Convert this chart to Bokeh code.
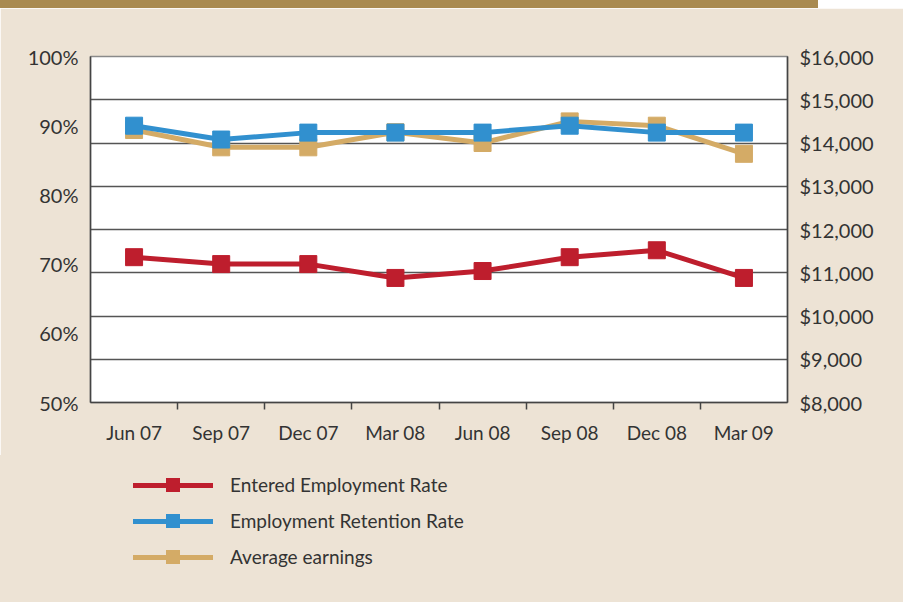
from bokeh.plotting import figure
from bokeh.layouts import column
from bokeh.models import (Range1d, LinearAxis, FixedTicker, PrintfTickFormatter,
                          NumeralTickFormatter, Grid, Div)
from bokeh.embed import file_html
from bokeh.resources import INLINE

quarters = ["Jun 07", "Sep 07", "Dec 07", "Mar 08", "Jun 08", "Sep 08", "Dec 08", "Mar 09"]
entered_rate = [71, 70, 70, 68, 69, 71, 72, 68]
retention_rate = [90, 88, 89, 89, 89, 90, 89, 89]
avg_earnings = [14300, 13900, 13900, 14250, 14000, 14500, 14400, 13750]
pct_ticks = [50, 60, 70, 80, 90, 100]
dollar_ticks = [8000, 9000, 10000, 11000, 12000, 13000, 14000, 15000, 16000]
series_labels = ["Entered Employment Rate", "Employment Retention Rate", "Average earnings"]

BG = "#EDE3D5"
BAR = "#A98A50"
RED = "#BE1E2D"
BLUE = "#3190CF"
GOLD = "#D4AB66"
TXT = "#333333"
GRID = "#555555"
FONT = "Lato"
W = 903
H = 602
BAR_H = 8
FIG_H = 447  # bar + figure end where the legend block starts

n = len(quarters)
xs = [i + 0.5 for i in range(n)]

bar = Div(text="", width=818, height=BAR_H, margin=0,
          styles={"background-color": BAR})

p = figure(output_backend="svg", toolbar_location=None,
           frame_width=697, frame_height=346,
           min_border_left=90, min_border_right=W - 90 - 697,
           min_border_top=48, min_border_bottom=FIG_H - 48 - 346,
           x_range=Range1d(0, n), y_range=Range1d(pct_ticks[0], pct_ticks[-1]),
           x_axis_type=None, y_axis_type=None, margin=0)
p.extra_y_ranges = {"earn": Range1d(dollar_ticks[0], dollar_ticks[-1])}

p.background_fill_color = "white"
p.border_fill_color = BG
p.outline_line_color = "#8a8a8a"
p.outline_line_width = 1.5
p.xgrid.visible = False
p.ygrid.visible = False

left = LinearAxis(ticker=FixedTicker(ticks=pct_ticks),
                  formatter=PrintfTickFormatter(format="%d%%"))
right = LinearAxis(y_range_name="earn", ticker=FixedTicker(ticks=dollar_ticks),
                   formatter=NumeralTickFormatter(format="$0,0"))
bottom = LinearAxis(ticker=FixedTicker(ticks=xs, minor_ticks=list(range(1, n))),
                    major_label_overrides={x: q for x, q in zip(xs, quarters)})

for ax in (left, right, bottom):
    ax.axis_line_color = "#444444"
    ax.axis_line_width = 1.5
    ax.major_tick_in = 0
    ax.major_tick_out = 0
    ax.minor_tick_in = 0
    ax.minor_tick_out = 0
    ax.major_label_text_font = FONT
    ax.major_label_text_font_size = "20px"
    ax.major_label_text_color = TXT
bottom.major_label_text_font_size = "19px"
left.major_label_standoff = 12
right.major_label_standoff = 12
bottom.minor_tick_out = 7
bottom.minor_tick_line_color = "#444444"
bottom.minor_tick_line_width = 1.5
bottom.major_label_standoff = 11

p.add_layout(left, "left")
p.add_layout(right, "right")
p.add_layout(bottom, "below")

grid = Grid(dimension=1, ticker=right.ticker, y_range_name="earn",
            grid_line_color=GRID, grid_line_width=1.5)
p.add_layout(grid)

p.line(xs, avg_earnings, y_range_name="earn", line_color=GOLD, line_width=5)
p.scatter(xs, avg_earnings, y_range_name="earn", marker="square", size=17,
          fill_color=GOLD, line_color=GOLD)
p.line(xs, retention_rate, line_color=BLUE, line_width=5)
p.scatter(xs, retention_rate, marker="square", size=17, fill_color=BLUE, line_color=BLUE)
p.line(xs, entered_rate, line_color=RED, line_width=5)
p.scatter(xs, entered_rate, marker="square", size=17, fill_color=RED, line_color=RED)

# legend block (HTML) below the chart
LEG_H = H - BAR_H - FIG_H
rows = []
for i, (lab, col) in enumerate(zip(series_labels, [RED, BLUE, GOLD])):
    c = 30 + 36 * i
    rows.append(
        f'<div style="position:absolute;left:133px;top:{c - 2.5}px;width:80px;height:5px;background:{col};"></div>'
        f'<div style="position:absolute;left:166px;top:{c - 7}px;width:14px;height:14px;background:{col};"></div>'
        f'<div style="position:absolute;left:230px;top:{c - 12}px;height:24px;line-height:24px;'
        f'white-space:nowrap;font-family:{FONT};font-size:19px;color:{TXT};">{lab}</div>'
    )
legend_html = (f'<div style="position:relative;width:{W}px;height:{LEG_H}px;">'
               + "".join(rows) + "</div>")
legend_div = Div(text=legend_html, width=W, height=LEG_H, margin=0,
                 styles={"background-color": BG})

layout = column(bar, p, legend_div, spacing=0)
open("out.html", "w").write(file_html(layout, INLINE))
